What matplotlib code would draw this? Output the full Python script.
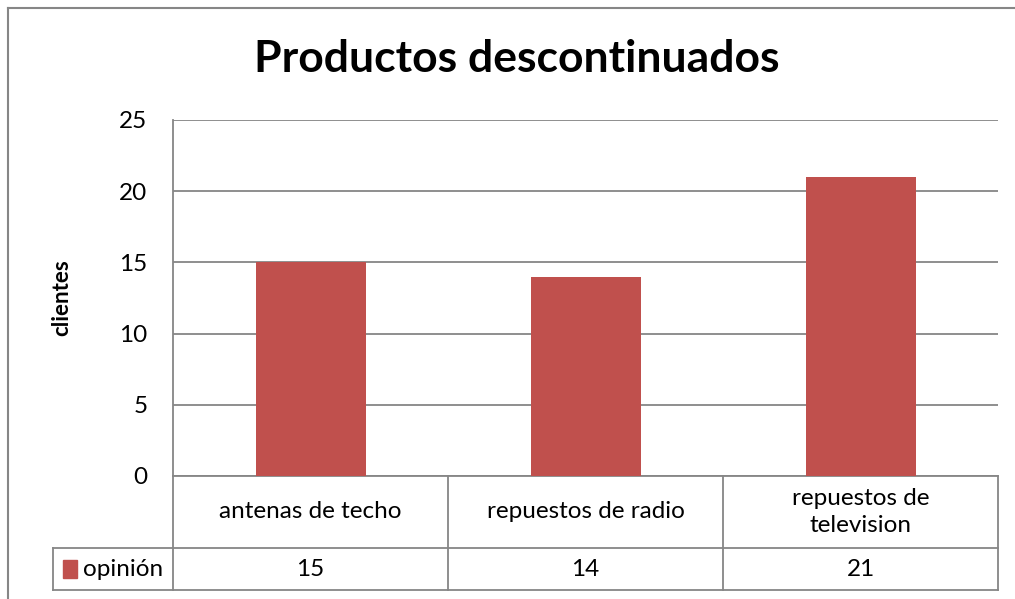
import matplotlib.pyplot as plt
from matplotlib.patches import Rectangle

# -----------------------------------------------------
# DATA
# -----------------------------------------------------

categories = ["antenas de techo", "repuestos de radio", "repuestos de\ntelevision"]
values = [15, 14, 21]
series_name = "opinión"
y_ticks = [0, 5, 10, 15, 20, 25]

BAR_COLOR = "#C0504D"
LINE_COLOR = "#868686"
FONT = "Lato"
FS = 17.5

W, H = 1015, 599
fig = plt.figure(figsize=(W / 100, H / 100), dpi=100)

# plot area in pixels: left 173, right 998, top 120, bottom 476
left, right, top, bottom = 173, 998, 120, 476
ax = fig.add_axes([left / W, 1 - bottom / H, (right - left) / W, (bottom - top) / H])

x = list(range(len(categories)))
ax.bar(x, values, width=0.4, color=BAR_COLOR, zorder=3)
ax.set_xlim(-0.5, len(categories) - 0.5)
ax.set_ylim(0, 25)
ax.set_yticks(y_ticks)
ax.set_yticklabels([str(t) for t in y_ticks], fontsize=FS, fontfamily=FONT)
ax.tick_params(axis="y", length=0, pad=18.5)
ax.set_xticks([])
ax.grid(axis="y", color=LINE_COLOR, linewidth=1.3, zorder=0)
for side in ["top", "right"]:
    ax.spines[side].set_visible(False)
ax.spines["left"].set_color(LINE_COLOR)
ax.spines["left"].set_linewidth(1.3)
ax.spines["bottom"].set_color(LINE_COLOR)
ax.spines["bottom"].set_linewidth(1.3)

fig.text(62 / W, 1 - 298 / H, "clientes", rotation=90, ha="center", va="center",
         fontsize=16, fontweight="bold", fontfamily=FONT)

# -----------------------------------------------------
# DATA TABLE under the plot
# -----------------------------------------------------

row1 = -(548 - bottom) / (bottom - top)
row2 = -(590 - bottom) / (bottom - top)
leg_left = -0.5 - (left - 53) / ((right - left) / len(categories))

tr = ax.get_xaxis_transform()
lw = 1.3
kw = dict(color=LINE_COLOR, linewidth=lw, transform=tr, clip_on=False)

# horizontal lines
ax.plot([leg_left, 2.5], [row1, row1], **kw)
ax.plot([leg_left, 2.5], [row2, row2], **kw)
# vertical lines
for xv in [-0.5, 0.5, 1.5, 2.5]:
    ax.plot([xv, xv], [0, row2], **kw)
ax.plot([leg_left, leg_left], [row1, row2], **kw)

for i, (cat, val) in enumerate(zip(categories, values)):
    ax.text(i, row1 / 2, cat, ha="center", va="center", fontsize=FS,
            fontfamily=FONT, transform=tr, linespacing=1.4)
    ax.text(i, (row1 + row2) / 2, str(val), ha="center", va="center",
            fontsize=FS, fontfamily=FONT, transform=tr)

# legend key inside the table
key_x = leg_left + 0.035
ax.add_patch(Rectangle((key_x, (row1 + row2) / 2 - 0.024), 0.052, 0.048,
                       color=BAR_COLOR, transform=tr, clip_on=False))
ax.text(key_x + 0.075, (row1 + row2) / 2, series_name, ha="left", va="center",
        fontsize=FS, fontfamily=FONT, transform=tr)

# -----------------------------------------------------
# TITLE AND OUTER BORDER
# -----------------------------------------------------

fig.text(517 / W, 1 - 59 / H, "Productos descontinuados", ha="center", va="center",
         fontsize=32, fontweight="bold", fontfamily=FONT)

fig.add_artist(plt.Line2D([8 / W, 1], [1 - 8 / H, 1 - 8 / H], color=LINE_COLOR, linewidth=1.5))
fig.add_artist(plt.Line2D([8 / W, 8 / W], [0, 1 - 8 / H], color=LINE_COLOR, linewidth=1.5))

fig.savefig("out.png", dpi=100)
